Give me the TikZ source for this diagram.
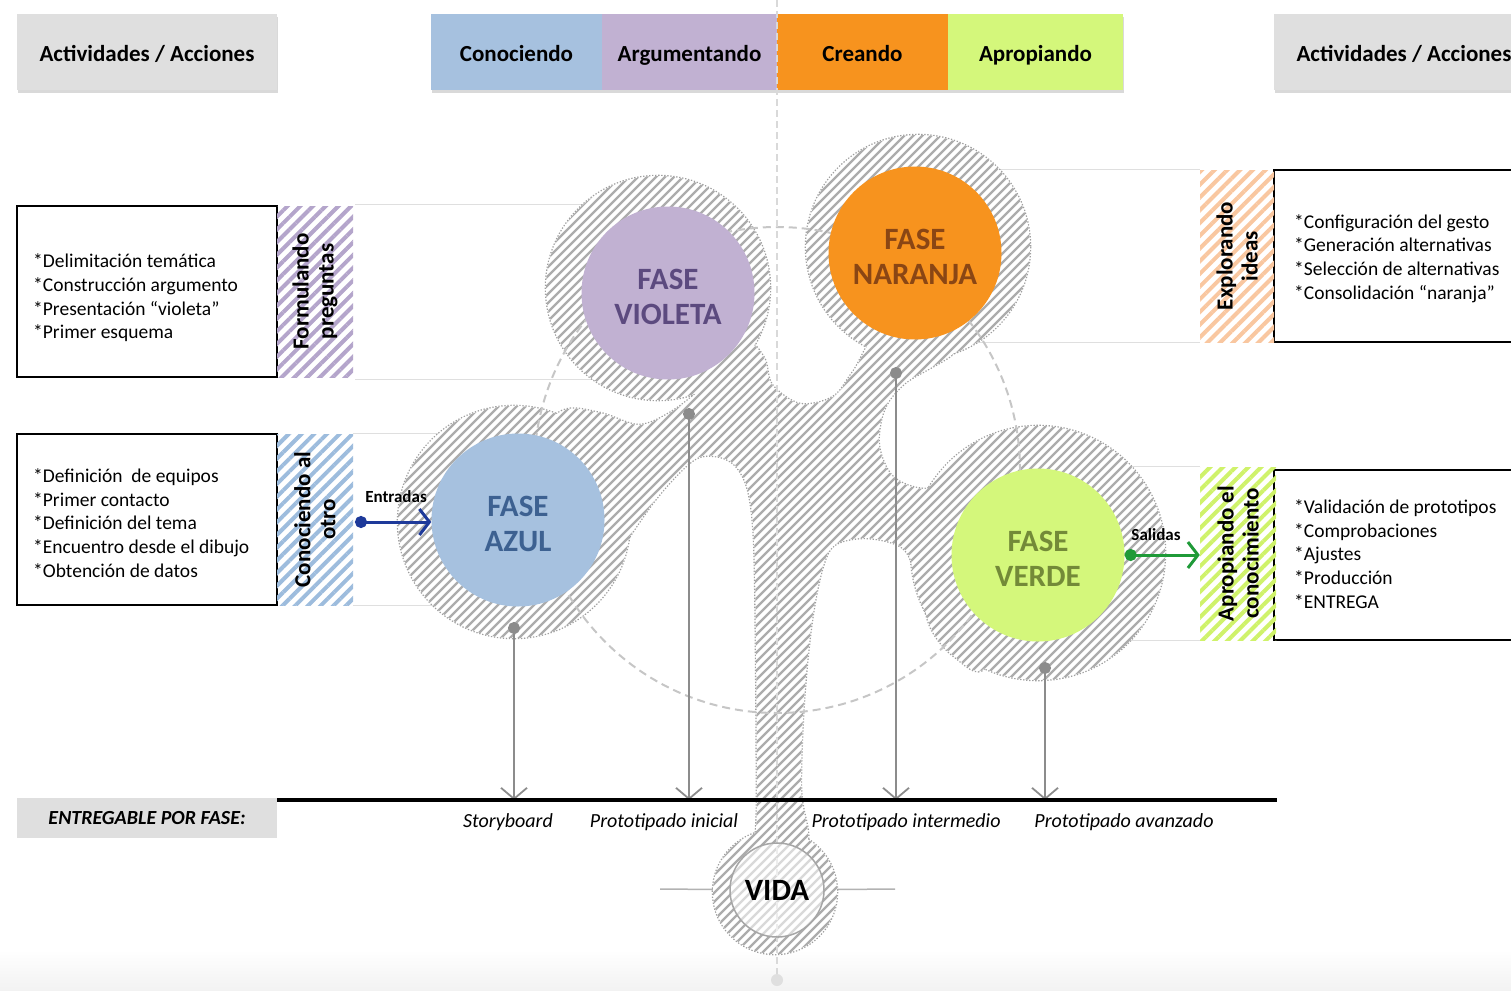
\documentclass[tikz,border=0pt]{standalone}
\usepackage{fontspec}
\setmainfont{Carlito}
\usetikzlibrary{arrows.meta,patterns.meta,shadows}

\definecolor{gris}{HTML}{DFDFDF}
\definecolor{azul}{HTML}{A6C1DF}
\definecolor{violeta}{HTML}{C1B1D2}
\definecolor{naranja}{HTML}{F7931E}
\definecolor{verde}{HTML}{D4F77B}
\definecolor{azulT}{HTML}{3D6191}
\definecolor{violetaT}{HTML}{5C4A7F}
\definecolor{naranjaT}{HTML}{8A4614}
\definecolor{verdeT}{HTML}{738A38}
\definecolor{azulR}{HTML}{9DBCDD}
\definecolor{violetaR}{HTML}{B4A5CB}
\definecolor{naranjaR}{HTML}{F9C7A0}
\definecolor{verdeR}{HTML}{CFF26A}
\definecolor{entrada}{HTML}{1E3A9A}
\definecolor{salida}{HTML}{1F9A38}

\newcommand\manchas{(658,288) circle[radius=112]
  (918,247) circle[radius=112]
  (514,522) circle[radius=116]
  (1038,553) circle[radius=127]
  (775,892) circle[radius=62]
  plot[smooth cycle,tension=0.55] coordinates {
    (757,870) (757,800) (756,650) (754,540) (748,490) (735,465) (715,456)
    (692,461) (655,500) (614,560) (578,616) (530,570) (530,450) (562,411)
    (600,413) (638,425) (668,414) (700,390) (745,345) (764,358) (772,385)
    (800,404) (833,397) (853,372) (890,320) (958,346) (905,383) (884,410)
    (879,446) (893,477) (925,489) (962,478) (1005,580) (985,667) (955,657)
    (931,628) (917,578) (903,548) (868,538) (836,544) (823,566) (812,620)
    (804,700) (801,790) (808,840) (790,872)}}

\begin{document}
\begin{tikzpicture}[x=1pt,y=-1pt,
	hdr/.style={minimum width=171,minimum height=76,inner sep=0,text height=22,text depth=3,
		font=\bfseries\fontsize{23}{26}\selectfont,
		drop shadow={opacity=0.3,shadow xshift=1pt,shadow yshift=-3pt}},
	caja/.style={draw,line width=1.5,minimum width=260,minimum height=171,inner sep=0},
	texto/.style={anchor=west,inner sep=0,align=left,font=\fontsize{19.5}{23.7}\selectfont},
	franja/.style={minimum width=76,minimum height=171,inner sep=0,pattern={Lines[angle=45,distance=9pt,line width=4pt]}},
	rotulo/.style={rotate=90,align=center,inner sep=0,font=\bfseries\fontsize{23}{25}\selectfont},
	fase/.style={circle,minimum size=173,inner sep=0},
	faset/.style={align=center,inner sep=0,font=\bfseries\fontsize{31}{35}\selectfont},
	tenue/.style={gray!25,line width=1},
	raya/.style={gray!65,line width=2.4},
	bajada/.style={gray!90,line width=1.8,{Circle[length=12pt]}-{Straight Barb[length=11pt,width=26pt]}},
	flecha/.style={line width=3,{Circle[length=12pt]}-{Straight Barb[length=10pt,width=26pt]}},
	entrega/.style={font=\itshape\fontsize{20}{23}\selectfont}]
	\useasboundingbox (0,0) rectangle (1511,990);
	\fill[top color=white,bottom color=gray!10] (0,950) rectangle (1511,990);
	\coordinate (cVi) at (668,293);
	\coordinate (cNa) at (915,253);
	\coordinate (cAz) at (518,520);
	\coordinate (cVe) at (1038,555);
	\coordinate (cVida) at (777,890);
	\coordinate (cC) at (777,470);
	\coordinate (top) at (777,0);
	\coordinate (bot) at (777,980);
	\coordinate (vL) at (660,889);
	\coordinate (vR) at (895,889);
	\coordinate (eL) at (277,800);
	\coordinate (eR) at (1277,800);
	\coordinate (ent) at (355,522);
	\coordinate (d1) at (514,622);
	\coordinate (d2) at (689,408);
	\coordinate (d3) at (896,367);
	\coordinate (d4) at (1045,662);

	\node[hdr,fill=gris,minimum width=260] (act1) at (147,52) {Actividades / Acciones};
	\node[hdr,fill=azul] (con) at (516.5,52) {Conociendo};
	\node[hdr,fill=violeta,minimum width=175] (arg) at (689.5,52) {Argumentando};
	\node[hdr,fill=naranja] (cre) at (862.5,52) {Creando};
	\node[hdr,fill=verde,minimum width=175] (apr) at (1035.5,52) {Apropiando};
	\node[hdr,fill=gris,minimum width=260] (act2) at (1404,52) {Actividades / Acciones};

	\node[caja] (l1) at (147,291.5) {};
	\node[caja] (l2) at (147,519.5) {};
	\node[caja,minimum height=172] (r1) at (1404,256) {};
	\node[caja,minimum height=170] (r2) at (1404,555) {};
	\node[texto] (l1t) at (33,298) {*Delimitación temática\\{}*Construcción argumento\\{}*Presentación “violeta”\\{}*Primer esquema};
	\node[texto] (l2t) at (33,523) {*Definición\ \ de equipos\\{}*Primer contacto\\{}*Definición del tema\\{}*Encuentro desde el dibujo\\{}*Obtención de datos};
	\node[texto] (r1t) at (1294,258.5) {*Configuración del gesto\\{}*Generación alternativas\\{}*Selección de alternativas\\{}*Consolidación “naranja”};
	\node[texto] (r2t) at (1294,554) {*Validación de prototipos\\{}*Comprobaciones\\{}*Ajustes\\{}*Producción\\{}*ENTREGA};

	\node[franja,pattern color=violetaR] (fp) at (315,291.5) {};
	\node[franja,pattern color=azulR] (ca) at (315,519.5) {};
	\node[franja,pattern color=naranjaR,minimum width=74,minimum height=172] (ei) at (1237,256) {};
	\node[franja,pattern color=verdeR,minimum height=173] (ac) at (1238,553.5) {};
	\node[rotulo] (fpt) at (fp) {Formulando\\preguntas};
	\node[rotulo] (cat) at (ca) {Conociendo al\\otro};
	\node[rotulo] (eit) at (ei) {Explorando\\ideas};
	\node[rotulo] (act) at (ac) {Apropiando el\\conocimiento};

	\draw[tenue] (fp.north east) -- (fp.north east -| cVi);
	\draw[tenue] (fp.south east) -- (fp.south east -| cVi);
	\draw[tenue] (ca.north east) -- (ca.north east -| cAz);
	\draw[tenue] (ca.south east) -- (ca.south east -| cAz);
	\draw[tenue] (ei.north west) -- (ei.north west -| cNa);
	\draw[tenue] (ei.south west) -- (ei.south west -| cNa);
	\draw[tenue] (ac.north west) -- (ac.north west -| cVe);
	\draw[tenue] (ac.south west) -- (ac.south west -| cVe);
	\draw[gray!60,line width=1.5] (vL) -- (cVida) -- (vR);

	\path[draw=gray!75,line width=2.6,dash pattern=on 1.3pt off 1.7pt] \manchas;
	\path[fill=white] \manchas;
	\begin{scope}
		\clip \manchas;
		\foreach \i in {-500,-491,...,1150}
			\draw[raya] (\i,1000) -- ++(1000,-1000);
	\end{scope}

	\draw[gray!45,line width=2,dash pattern=on 8pt off 5pt] (cC) circle[radius=243];
	\draw[gray!30,line width=2.5,dash pattern=on 7pt off 4pt] (top) -- (bot);
	\fill[gray!25] (bot) circle[radius=6];

	\draw[bajada] (d1) -- (d1 |- eL);
	\draw[bajada] (d2) -- (d2 |- eL);
	\draw[bajada] (d3) -- (d3 |- eL);
	\draw[bajada] (d4) -- (d4 |- eL);
	\draw[line width=4] (eL) -- (eR);

	\node[fase,fill=violeta] (vio) at (cVi) {};
	\node[fase,fill=naranja] (nar) at (cNa) {};
	\node[fase,fill=azul] (azu) at (cAz) {};
	\node[fase,fill=verde] (ver) at (cVe) {};
	\node[faset,text=violetaT] (vioT) at ([yshift=-4pt]vio) {FASE\\VIOLETA};
	\node[faset,text=naranjaT] (narT) at ([yshift=-4pt]nar) {FASE\\NARANJA};
	\node[faset,text=azulT] (azuT) at ([yshift=-4pt]azu) {FASE\\AZUL};
	\node[faset,text=verdeT] (verT) at ([yshift=-4pt]ver) {FASE\\VERDE};
	\node[circle,minimum size=94,inner sep=0,fill=white,fill opacity=0.55,text opacity=1,draw=gray!70,line width=1.5,
		font=\bfseries\fontsize{31}{34}\selectfont] (vida) at (cVida) {VIDA};

	\draw[flecha,entrada] (ent) -- (ent -| azu.west);
	\draw[flecha,salida] (ver.east) -- (ver.east -| ac.west);
	\node[font=\bfseries\fontsize{17}{20}\selectfont] (entT) at (396,497) {Entradas};
	\node[font=\bfseries\fontsize{17}{20}\selectfont] (salT) at (1156,535) {Salidas};

	\node[fill=gris,minimum width=260,minimum height=40,inner sep=0,font=\bfseries\itshape\fontsize{20}{23}\selectfont] (efase) at (147,818) {ENTREGABLE POR FASE:};
	\node[entrega] (e1) at (508,822) {Storyboard};
	\node[entrega] (e2) at (664,822) {Prototipado inicial};
	\node[entrega] (e3) at (906,822) {Prototipado intermedio};
	\node[entrega] (e4) at (1124,822) {Prototipado avanzado};
\end{tikzpicture}
\end{document}
